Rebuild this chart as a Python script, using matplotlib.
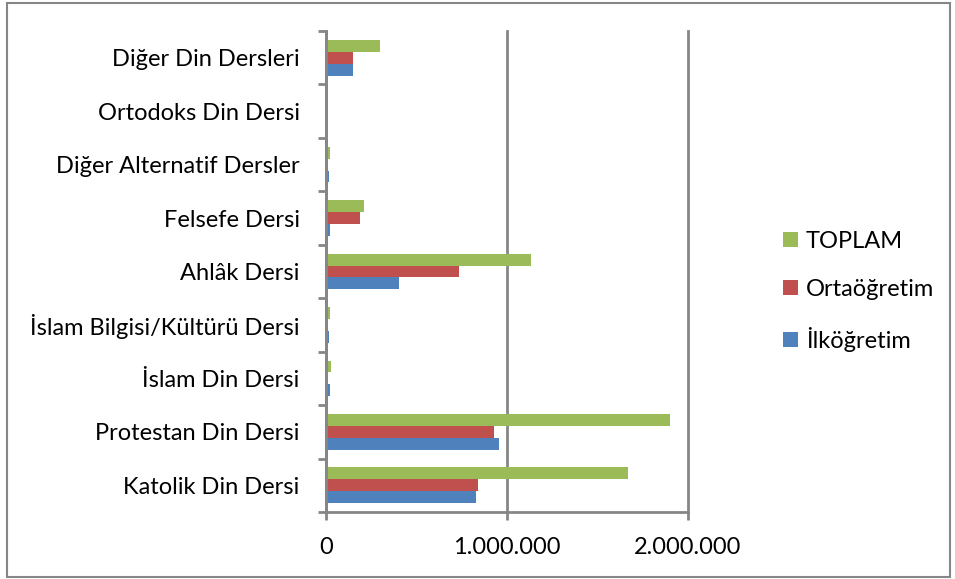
import numpy as np
import matplotlib.pyplot as plt
from matplotlib.ticker import FuncFormatter, FixedLocator
from matplotlib.patches import Rectangle

plt.rcParams['font.family'] = ['Lato', 'DejaVu Sans']

categories = ['Katolik Din Dersi', 'Protestan Din Dersi', 'İslam Din Dersi',
              'İslam Bilgisi/Kültürü Dersi', 'Ahlâk Dersi', 'Felsefe Dersi',
              'Diğer Alternatif Dersler', 'Ortodoks Din Dersi', 'Diğer Din Dersleri']
ilkogretim = [831000, 953000, 22000, 17000, 402000, 22000, 17000, 0, 151000]
ortaogretim = [839000, 929000, 3000, 5000, 734000, 190000, 3000, 0, 151000]
toplam = [1670000, 1903000, 28000, 24000, 1132000, 212000, 24000, 0, 300000]

series = [('İlköğretim', ilkogretim, '#4F81BD'),
          ('Ortaöğretim', ortaogretim, '#C0504D'),
          ('TOPLAM', toplam, '#9BBB59')]

fig = plt.figure(figsize=(9.55, 5.79), dpi=100)
ax = fig.add_axes([0.3414, 0.1157, 0.3790, 0.8308])

y = np.arange(len(categories))
h = 1 / 4.5
for i, (name, vals, col) in enumerate(series):
    ax.barh(y + (i - 1) * h, vals, height=h, color=col, label=name, zorder=3)

ax.set_xlim(0, 2000000)
ax.set_ylim(-0.5, len(categories) - 0.5)
ax.set_xticks([0, 1000000, 2000000])
ax.xaxis.set_major_formatter(FuncFormatter(lambda v, p: f'{int(v):,}'.replace(',', '.')))
ax.grid(axis='x', color='#868686', linewidth=2, zorder=1)
for gl in ax.get_xgridlines():
    gl.set_clip_on(False)

ax.set_yticks(y)
ax.set_yticklabels(categories)
ax.yaxis.set_minor_locator(FixedLocator(np.arange(-0.5, len(categories), 1)))
ax.tick_params(axis='y', which='major', length=0, pad=19, labelsize=17)
ax.tick_params(axis='y', which='minor', length=6, width=2, color='#868686')
ax.tick_params(axis='x', length=6, width=2, color='#868686', pad=12, labelsize=17)

for s in ['top', 'right']:
    ax.spines[s].set_visible(False)
for s in ['left', 'bottom']:
    ax.spines[s].set_color('#868686')
    ax.spines[s].set_linewidth(2)
    ax.spines[s].set_zorder(4)

handles, labels = ax.get_legend_handles_labels()
fig.legend(handles[::-1], labels[::-1], loc='center left', bbox_to_anchor=(0.798, 0.497),
           frameon=False, fontsize=17, handlelength=0.6, handleheight=0.6,
           labelspacing=1.15, handletextpad=0.35)

fig.patches.append(Rectangle((0.007, 0.004), 0.988, 0.99, transform=fig.transFigure,
                             fill=False, edgecolor='#868686', linewidth=1.5))

fig.savefig('out.png', dpi=100)
